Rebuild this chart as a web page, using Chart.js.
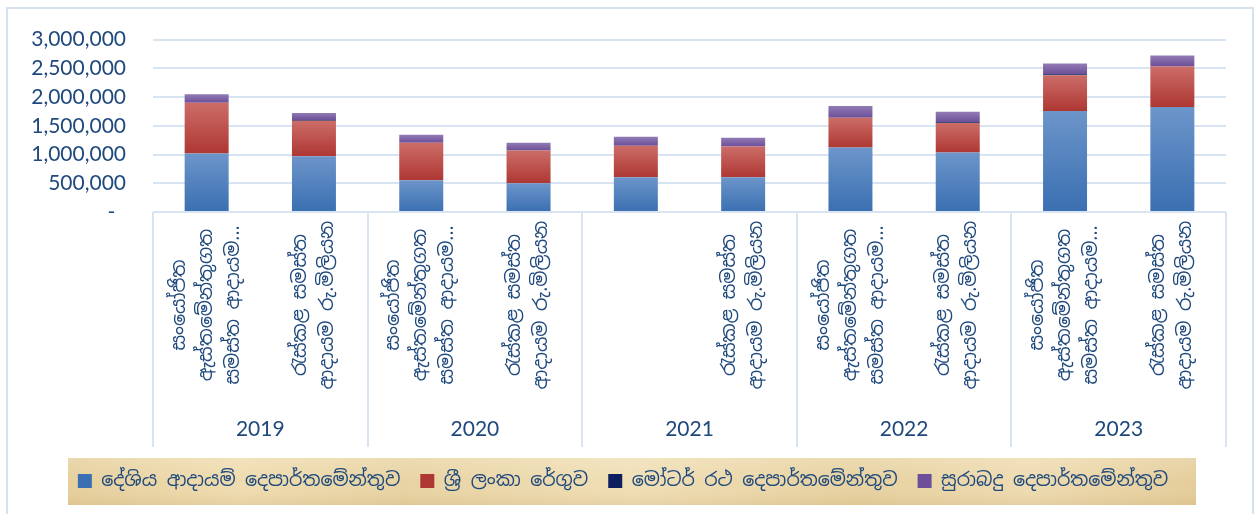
<!DOCTYPE html>
<html>
<head>
<meta charset="utf-8">
<script src="https://cdn.jsdelivr.net/npm/chart.js@4"></script>
<style>
  html, body { margin: 0; padding: 0; background: #fff; }
  #wrap { width: 1255px; height: 514px; position: relative; }
</style>
</head>
<body>
<div id="wrap"><canvas id="chart"></canvas></div>
<script>
// Category labels (two per year; the first 2021 slot has no label)
const LABEL_EST = ["සංයෝජිත", "ඇස්තමේන්තුගත", "සමස්ත ආදායම..."];
const LABEL_COL = ["රැස්කළ සමස්ත", "ආදායම රු.මිලියන"];
const categories = [LABEL_EST, LABEL_COL, LABEL_EST, LABEL_COL, [], LABEL_COL, LABEL_EST, LABEL_COL, LABEL_EST, LABEL_COL];
const years = ["2019", "2020", "2021", "2022", "2023"];

const seriesNames = [
	"දේශිය ආදායම් දෙපාර්තමේන්තුව",
	"ශ්‍රී ලංකා රේගුව",
	"මෝටර් රථ දෙපාර්තමේන්තුව",
	"සුරාබදු දෙපාර්තමේන්තුව",
];

// Values
const inlandRevenue = [1017000, 970000, 552000, 500000, 603000, 603000, 1121000, 1034000, 1759000, 1828000];
const customs = [883000, 620000, 655000, 569000, 552000, 535000, 517000, 516000, 621000, 706000];
const motorTraffic = [0, 12000, 0, 0, 0, 0, 0, 12000, 15000, 0];
const excise = [150000, 122000, 138000, 138000, 155000, 155000, 207000, 181000, 190000, 190000];

const yTicks = [0, 500000, 1000000, 1500000, 2000000, 2500000, 3000000];

const TEXT = "#1f497d";
const GRID = "#d9e4f3";
const SINHALA = "'Noto Sans Sinhala', 'Iskoola Pota', 'Noto Sans', sans-serif";
const LATIN = "Lato, 'Open Sans', sans-serif";

// vertical gradient per stacked segment
const segFill = (top, mid, bottom) => (ctx) => {
	if (ctx.type !== "data") return mid;
	const chart = ctx.chart;
	const y = chart.scales.y;
	if (!y) return mid;
	const i = ctx.dataIndex;
	let base = 0;
	for (let k = 0; k < ctx.datasetIndex; k++) base += chart.data.datasets[k].data[i];
	const v = chart.data.datasets[ctx.datasetIndex].data[i];
	const y0 = y.getPixelForValue(base);
	const y1 = y.getPixelForValue(base + v);
	if (!isFinite(y0) || !isFinite(y1) || y0 === y1) return mid;
	const g = chart.ctx.createLinearGradient(0, y1, 0, y0);
	g.addColorStop(0, top);
	g.addColorStop(1, bottom);
	return g;
};

// frame, legend parchment and rotated category labels
const decor = {
	id: "decor",
	beforeDraw(chart) {
		const c = chart.ctx;
		c.save();
		c.strokeStyle = "#d6e2f2";
		c.lineWidth = 2;
		c.strokeRect(7, 8, 1246, 520);
		const lg = chart.legend;
		if (lg && lg.legendHitBoxes.length) {
			const top = 458, bottom = 505, left = 68, right = 1196;
			const g = c.createLinearGradient(left, 0, right, 0);
			g.addColorStop(0, "#e6cf9c");
			g.addColorStop(0.15, "#efdcaf");
			g.addColorStop(0.3, "#e8d3a2");
			g.addColorStop(0.5, "#f0dfb5");
			g.addColorStop(0.7, "#e7d19f");
			g.addColorStop(0.85, "#eedbb0");
			g.addColorStop(1, "#e5cd9a");
			c.fillStyle = g;
			c.fillRect(left, top, right - left, bottom - top);
			const v = c.createLinearGradient(0, top, 0, bottom);
			v.addColorStop(0, "rgba(255,255,255,0.18)");
			v.addColorStop(0.5, "rgba(255,255,255,0)");
			v.addColorStop(1, "rgba(160,120,60,0.12)");
			c.fillStyle = v;
			c.fillRect(left, top, right - left, bottom - top);
		}
		c.restore();
	},
	afterDraw(chart) {
		const x = chart.scales.x;
		const c = chart.ctx;
		const midY = (x.top + x.bottom) / 2;
		const lineH = 27;
		c.save();
		c.fillStyle = TEXT;
		c.font = "19px " + SINHALA;
		c.textAlign = "center";
		c.textBaseline = "middle";
		categories.forEach((lines, i) => {
			const px = x.getPixelForValue(i);
			lines.forEach((t, j) => {
				const off = (j - (lines.length - 1) / 2) * lineH;
				c.save();
				c.translate(px + off, midY);
				c.rotate(-Math.PI / 2);
				c.fillText(t, 0, 0);
				c.restore();
			});
		});
		c.restore();
	},
};

const DATA = {
	labels: categories,
	datasets: [
		{ label: seriesNames[0], data: inlandRevenue, backgroundColor: segFill("#6c95ca", "#4f81bd", "#3a6fb1") },
		{ label: seriesNames[1], data: customs, backgroundColor: segFill("#cc6d68", "#c0504d", "#ae3733") },
		{ label: seriesNames[2], data: motorTraffic, backgroundColor: "#0f1e5e" },
		{ label: seriesNames[3], data: excise, backgroundColor: segFill("#927bb5", "#8064a2", "#6c4f98") },
	],
};

const CONFIG = {
	type: "bar",
	data: DATA,
	options: {
		responsive: true,
		maintainAspectRatio: false,
		animation: false,
		datasets: {
			bar: {
				categoryPercentage: 1,
				barPercentage: 0.41,
				borderWidth: 0,
			},
		},
		layout: {
			padding: { top: 38, left: 20, right: 29, bottom: 13.5 },
		},
		plugins: {
			legend: {
				position: "bottom",
				labels: {
					color: TEXT,
					font: { family: SINHALA, size: 19 },
					boxWidth: 14,
					boxHeight: 14,
					padding: 20,
				},
			},
			title: { display: false },
			tooltip: { enabled: false },
		},
		scales: {
			x: {
				stacked: true,
				offset: true,
				border: { display: false },
				grid: {
					offset: true,
					drawOnChartArea: false,
					drawTicks: true,
					tickLength: 235,
					lineWidth: 2,
					color: (ctx) => (ctx.index === undefined || ctx.index % 2 === 0 ? GRID : "rgba(0,0,0,0)"),
				},
				ticks: { display: false },
				afterFit: (scale) => { scale.height = 186; },
			},
			x2: {
				type: "category",
				labels: years,
				position: "bottom",
				offset: true,
				border: { display: false },
				grid: { display: false, drawTicks: false },
				ticks: {
					color: TEXT,
					font: { family: LATIN, size: 21 },
					padding: 19,
					maxRotation: 0,
				},
				afterFit: (scale) => { scale.height = 53.5; },
			},
			y: {
				stacked: true,
				min: 0,
				max: 3000000,
				border: { display: false },
				grid: { color: GRID, lineWidth: 2, drawTicks: false },
				afterBuildTicks: (scale) => { scale.ticks = yTicks.map((v) => ({ value: v })); },
				ticks: {
					color: TEXT,
					font: { family: LATIN, size: 21 },
					padding: 27,
					callback: (v) => (v === 0 ? "-  " : v.toLocaleString("en-US")),
				},
				afterFit: (scale) => { scale.width = 133; },
			},
		},
	},
	plugins: [decor],
};

new Chart(document.getElementById("chart"), CONFIG);
</script>
</body>
</html>
